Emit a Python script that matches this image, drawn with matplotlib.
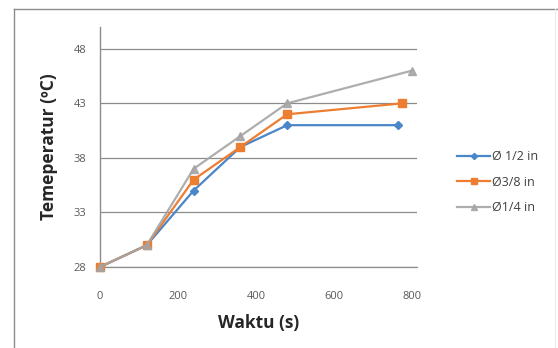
import matplotlib
matplotlib.use("Agg")
import matplotlib.pyplot as plt
from matplotlib.lines import Line2D

# Temperature over time for three pipe diameters
time_half = [0, 120, 240, 360, 480, 765]
temp_half = [28, 30, 35, 39, 41, 41]

time_3_8 = [0, 120, 240, 360, 480, 775]
temp_3_8 = [28, 30, 36, 39, 42, 43]

time_quarter = [0, 120, 240, 360, 480, 800]
temp_quarter = [28, 30, 37, 40, 43, 46]

series_labels = ["Ø 1/2 in", "Ø3/8 in", "Ø1/4 in"]
x_ticks = [0, 200, 400, 600, 800]
y_ticks = [28, 33, 38, 43, 48]

plt.rcParams["font.family"] = ["Open Sans", "DejaVu Sans"]

W, H = 558, 348
fig = plt.figure(figsize=(W / 100, H / 100), dpi=100)
fig.patch.set_facecolor("white")

# chart frame
frame_color = "#8c8c8c"
fig.add_artist(Line2D([14 / W, 1.0], [1 - 9 / H, 1 - 9 / H], color=frame_color, lw=1.0))
fig.add_artist(Line2D([14 / W, 14 / W], [1 - 9 / H, 0.0], color=frame_color, lw=1.0))
fig.add_artist(Line2D([555 / W, 555 / W], [1 - 9 / H, 0.0], color="#ebebeb", lw=0.8))

left, right, top, bottom = 100, 417, 27, 267
ax = fig.add_axes([left / W, 1 - bottom / H, (right - left) / W, (bottom - top) / H])

blue = "#4a86c8"
orange = "#ed7d31"
grey = "#a5a5a5"

ax.plot(time_half, temp_half, color=blue, lw=1.6, marker="D", ms=4.5,
        label=series_labels[0], zorder=3, clip_on=False)
ax.plot(time_3_8, temp_3_8, color=orange, lw=1.6, marker="s", ms=6,
        label=series_labels[1], zorder=4, clip_on=False)
ax.plot(time_quarter, temp_quarter, color=grey, lw=1.6, marker="^", ms=6,
        label=series_labels[2], zorder=5, clip_on=False, alpha=0.9)

ax.set_xlim(0, 813)
ax.set_ylim(28, 50)
ax.set_xticks(x_ticks)
ax.set_yticks(y_ticks)
ax.grid(axis="y", color="#8c8c8c", lw=0.9)
ax.set_axisbelow(True)
# horizontal axis line at the bottom of the value range
ax.axhline(y_ticks[0], color="#8c8c8c", lw=0.9, clip_on=False, zorder=1)

for side in ["top", "right", "bottom"]:
    ax.spines[side].set_visible(False)
ax.spines["left"].set_color("#8c8c8c")
ax.spines["left"].set_linewidth(1.0)

ax.tick_params(axis="both", length=0, labelsize=8, colors="#595959")
ax.tick_params(axis="x", pad=17)
ax.tick_params(axis="y", pad=10)

ax.set_xlabel("Waktu (s)", fontsize=12.5, fontweight="bold", color="#262626", labelpad=9)
ax.set_ylabel("Temeperatur (ºC)", fontsize=12.5, fontweight="bold", color="#262626", labelpad=11)

leg = fig.legend(loc="center left", bbox_to_anchor=(446 / W, 1 - 182 / H),
                 frameon=False, fontsize=9, handlelength=2.6, labelspacing=1.0,
                 handletextpad=0.2, markerscale=0.7)
for t in leg.get_texts():
    t.set_color("#404040")

fig.savefig("out.png", dpi=100, facecolor="white")
